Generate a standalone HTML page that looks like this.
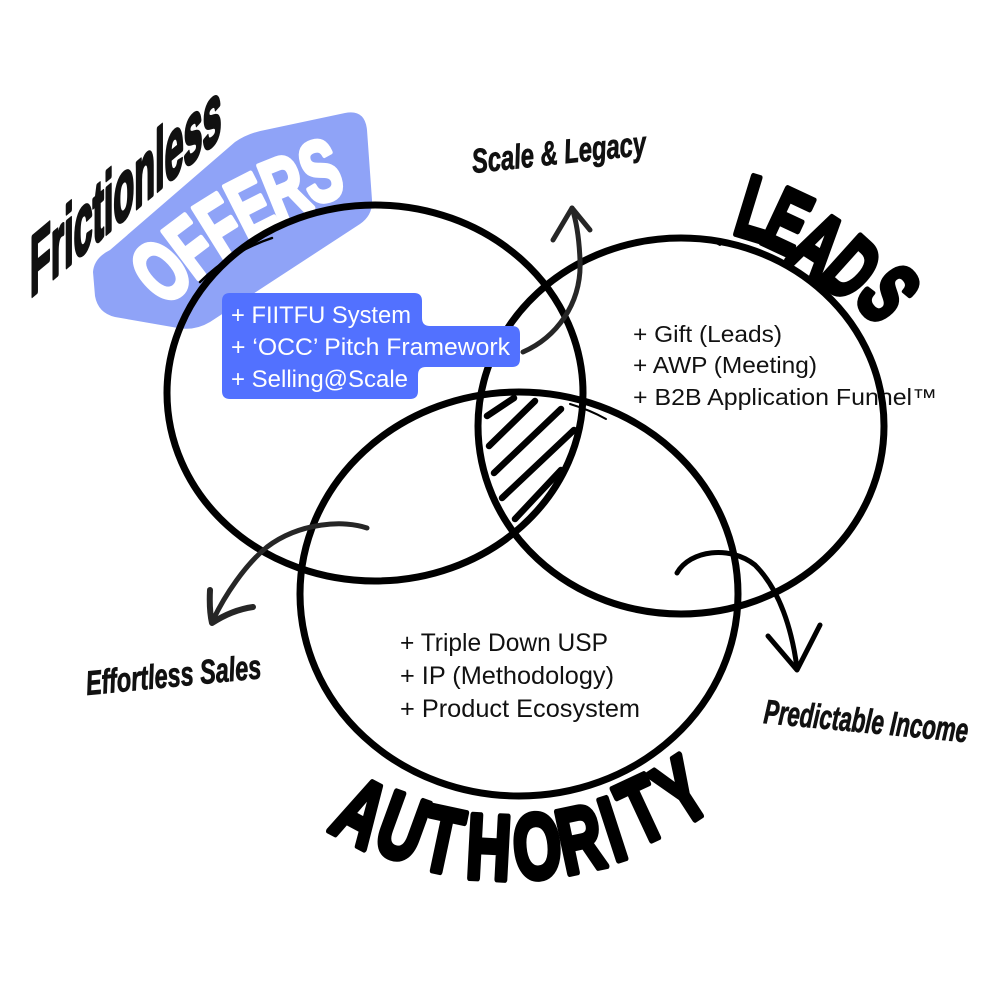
<!DOCTYPE html>
<html>
<head>
<meta charset="utf-8">
<style>
  html, body { margin:0; padding:0; background:#ffffff; }
  body { width:1000px; height:1000px; overflow:hidden; }
  svg { display:block; }
  .sans { font-family: "Liberation Sans", "DejaVu Sans", sans-serif; }
  .narrow { font-family: "Liberation Sans Narrow", "Liberation Sans", "DejaVu Sans Condensed", sans-serif; }
  .heavy { font-family: "Liberation Sans", "DejaVu Sans", sans-serif; font-weight: bold; }
</style>
</head>
<body>
<svg width="1000" height="1000" viewBox="0 0 1000 1000" xmlns="http://www.w3.org/2000/svg">
  <rect width="1000" height="1000" fill="#ffffff"/>

  <!-- Blue blob behind OFFERS -->
  <path d="M110,250 L235,142 Q248,133 265,130 L345,113 Q365,109 367,130 L372,200 Q373,215 360,224 L210,322 Q195,331 178,328 L115,317 Q98,313 95,296 L93,272 Q94,258 110,250 Z" fill="#8fa3f7"/>

  <!-- Frictionless (brush script) -->
  <text class="heavy" transform="translate(30,298) rotate(-40) skewX(-40)" font-size="66" fill="#111" stroke="#111" stroke-width="3" stroke-linejoin="round" textLength="250" lengthAdjust="spacingAndGlyphs">Frictionless</text>

  <!-- OFFERS white letters -->
  <g class="heavy" font-size="86" fill="#ffffff" stroke="#ffffff" stroke-width="5" stroke-linejoin="round" text-anchor="middle">
    <text transform="translate(160,270) rotate(-42) scale(0.66,1)" y="31">O</text>
    <text transform="translate(190,246) rotate(-37) scale(0.66,1)" y="31">F</text>
    <text transform="translate(219,225) rotate(-32) scale(0.66,1)" y="31">F</text>
    <text transform="translate(250,205) rotate(-27) scale(0.66,1)" y="31">E</text>
    <text transform="translate(284,186) rotate(-22) scale(0.66,1)" y="31">R</text>
    <text transform="translate(320,170) rotate(-17) scale(0.66,1)" y="31">S</text>
  </g>

  <!-- Leads text -->
  <g class="sans" font-size="23" fill="#111">
    <text x="633" y="342" textLength="149" lengthAdjust="spacingAndGlyphs">+ Gift (Leads)</text>
    <text x="633" y="373" textLength="184" lengthAdjust="spacingAndGlyphs">+ AWP (Meeting)</text>
    <text x="633" y="405" textLength="304" lengthAdjust="spacingAndGlyphs">+ B2B Application Funnel™</text>
  </g>

  <!-- Authority text -->
  <g class="narrow" font-size="25" fill="#111">
    <text x="400" y="651" textLength="208" lengthAdjust="spacingAndGlyphs">+ Triple Down USP</text>
    <text x="400" y="684" textLength="214" lengthAdjust="spacingAndGlyphs">+ IP (Methodology)</text>
    <text x="400" y="717" textLength="240" lengthAdjust="spacingAndGlyphs">+ Product Ecosystem</text>
  </g>

  <!-- Circles -->
  <g fill="none" stroke="#000" stroke-width="7">
    <ellipse cx="375" cy="393" rx="208" ry="188"/>
    <ellipse cx="681" cy="426" rx="203" ry="188"/>
    <ellipse cx="519" cy="594" rx="219" ry="202"/>
  </g>
  <!-- sketchy tails -->
  <path d="M200,282 Q230,252 272,238" fill="none" stroke="#000" stroke-width="2.5" stroke-linecap="round"/>
  <path d="M570,404 Q590,410 606,419" fill="none" stroke="#000" stroke-width="2" stroke-linecap="round"/>
  <path d="M700,238 Q712,240 720,245" fill="none" stroke="#000" stroke-width="2" stroke-linecap="round"/>

  <!-- Hatch in triple intersection -->
  <g stroke="#000" stroke-width="6.5" stroke-linecap="round">
    <line x1="487" y1="416" x2="514" y2="398"/>
    <line x1="489" y1="446" x2="535" y2="401"/>
    <line x1="494" y1="473" x2="561" y2="409"/>
    <line x1="502" y1="498" x2="574" y2="430"/>
    <line x1="515" y1="519" x2="561" y2="470"/>
  </g>

  <!-- Blue box -->
  <path d="M230,293 H414 Q422,293 422,301 V318 Q422,326 430,326 H512 Q520,326 520,334 V359 Q520,367 512,367 H426 Q418,367 418,375 V391 Q418,399 410,399 H230 Q222,399 222,391 V301 Q222,293 230,293 Z" fill="#5271ff"/>
  <g class="sans" font-size="24" fill="#ffffff">
    <text x="231" y="323" textLength="180" lengthAdjust="spacingAndGlyphs">+ FIITFU System</text>
    <text x="231" y="355" textLength="279" lengthAdjust="spacingAndGlyphs">+ ‘OCC’ Pitch Framework</text>
    <text x="231" y="387" textLength="177" lengthAdjust="spacingAndGlyphs">+ Selling@Scale</text>
  </g>

  <!-- Arrows -->
  <g fill="none" stroke="#262626" stroke-width="5" stroke-linecap="round" stroke-linejoin="round">
    <!-- Scale & Legacy -->
    <path d="M523,352 C555,338 582,305 580,260 C579,235 576,220 572,208"/>
    <path d="M553,240 L572,208 L590,230"/>
    <!-- Effortless Sales -->
    <path d="M367,528 C345,520 300,522 267,547 C245,565 225,595 213,620"/>
    <path d="M210,590 Q209,610 212,623 Q232,610 253,607" stroke-width="6"/>
    <!-- Predictable Income -->
    <path d="M677,573 C690,550 730,545 755,565 C780,590 792,630 797,668" stroke="#000"/>
    <path d="M768,636 L797,670 L820,625" stroke="#000"/>
  </g>

  <!-- Script labels -->
  <g class="heavy" fill="#111" stroke="#111" stroke-width="0.8" font-style="italic">
    <text transform="translate(473,173) rotate(-6)" font-size="34" textLength="175" lengthAdjust="spacingAndGlyphs">Scale &amp; Legacy</text>
    <text transform="translate(87,695) rotate(-5.5)" font-size="34" textLength="176" lengthAdjust="spacingAndGlyphs">Effortless Sales</text>
    <text transform="translate(763,723) rotate(5.4)" font-size="34" textLength="205" lengthAdjust="spacingAndGlyphs">Predictable Income</text>
  </g>

  <!-- LEADS -->
  <g class="heavy" font-size="88" fill="#000" stroke="#000" stroke-width="6" stroke-linejoin="round" text-anchor="middle">
    <text transform="translate(757,208) rotate(17) scale(0.64,1)" y="31">L</text>
    <text transform="translate(788,221) rotate(25) scale(0.64,1)" y="31">E</text>
    <text transform="translate(819,244) rotate(33) scale(0.64,1)" y="31">A</text>
    <text transform="translate(852,268) rotate(42) scale(0.64,1)" y="31">D</text>
    <text transform="translate(889,293) rotate(52) scale(0.64,1)" y="31">S</text>
  </g>

  <!-- AUTHORITY -->
  <g class="heavy" font-size="92" fill="#000" stroke="#000" stroke-width="6" stroke-linejoin="round" text-anchor="middle">
    <text transform="translate(362,811) rotate(28) scale(0.67,1)" y="33">A</text>
    <text transform="translate(403,826) rotate(20) scale(0.67,1)" y="33">U</text>
    <text transform="translate(443,839) rotate(12) scale(0.67,1)" y="33">T</text>
    <text transform="translate(489,846) rotate(3) scale(0.67,1)" y="33">H</text>
    <text transform="translate(537,845) rotate(-5) scale(0.67,1)" y="33">O</text>
    <text transform="translate(580,838) rotate(-12) scale(0.67,1)" y="33">R</text>
    <text transform="translate(612,828) rotate(-18) scale(0.67,1)" y="33">I</text>
    <text transform="translate(641,809) rotate(-25) scale(0.67,1)" y="33">T</text>
    <text transform="translate(680,790) rotate(-33) scale(0.67,1)" y="33">Y</text>
  </g>
</svg>
</body>
</html>
